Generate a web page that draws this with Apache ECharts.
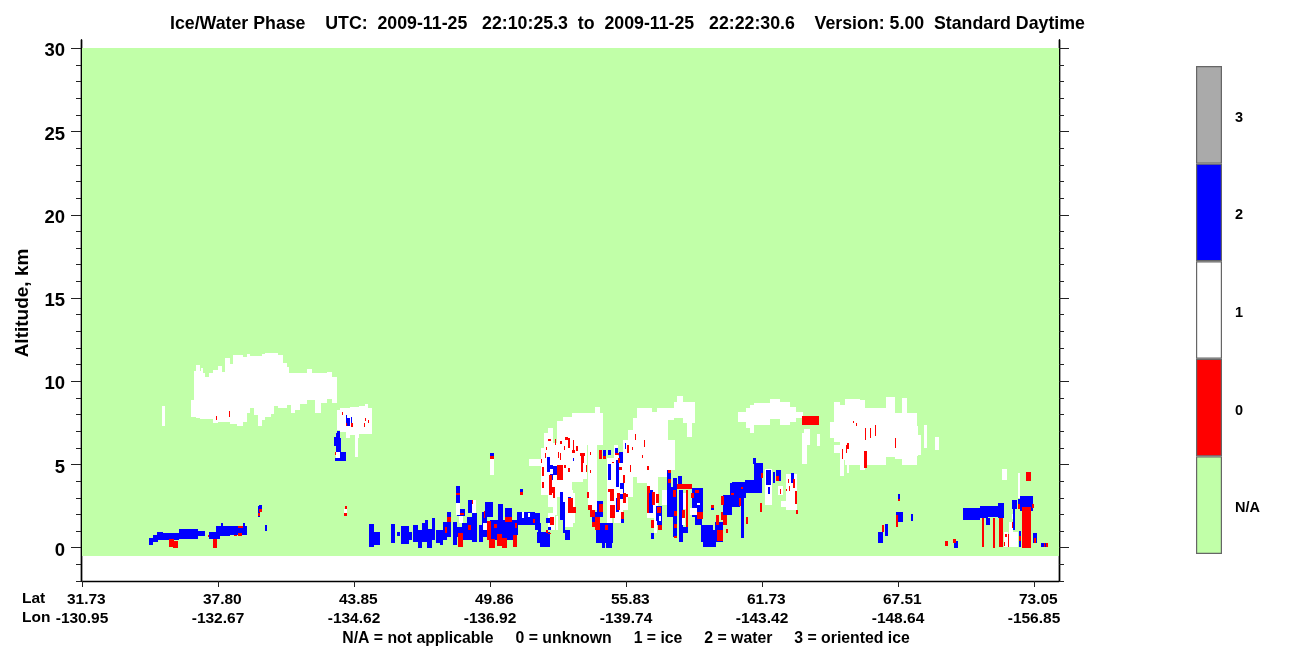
<!DOCTYPE html>
<html><head><meta charset="utf-8">
<style>html,body{margin:0;padding:0;background:#fff}#c{width:1300px;height:667px}</style>
<script src="https://cdn.jsdelivr.net/npm/echarts@6/dist/echarts.min.js"></script>
</head><body><div id="c"></div>
<script>
const titleText='Ice/Water Phase    UTC:  2009-11-25   22:10:25.3  to  2009-11-25   22:22:30.6    Version: 5.00  Standard Daytime';
const footText='N/A = not applicable     0 = unknown     1 = ice     2 = water     3 = oriented ice';
const latLabels=['31.73','37.80','43.85','49.86','55.83','61.73','67.51','73.05'];
const lonLabels=['-130.95','-132.67','-134.62','-136.92','-139.74','-143.42','-148.64','-156.85'];
const profileTicks=[0,136,272,408,544,680,816,952];
const majorAlt=[0,5,10,15,20,25,30];
const minorAlt=[-2,-1,1,2,3,4,6,7,8,9,11,12,13,14,16,17,18,19,21,22,23,24,26,27,28,29];
const phaseNames=['N/A','0','1','2','3'];
// every cell: [first profile, last profile, bottom km, top km]
const naCells=[[0,976.5,-0.5,30]];
const iceCells=[
[80,83,7.31,8.51],[109,112,7.85,8.9],[112,114,7.85,10.6],[114,118,7.8,10.97],[118,119,7.73,10.6],[119,121,7.73,10.8],[121,123,7.73,10.5],[123,127,7.73,10.25],[127,131,7.73,10.49],[131,136,7.49,10.67],[136,140,7.55,10.91],[140,143,7.55,10.55],[143,148,7.55,11.39],[148,151,7.43,11.03],[151,155,7.43,11.57],[155,161,7.31,11.57],[161,165,7.55,11.45],[165,168,8.09,11.63],[168,172,8.39,11.51],[172,176,7.97,11.51],[176,180,7.31,11.51],[180,183,7.67,11.63],[183,189,7.85,11.69],[189,192,8.03,11.69],[192,196,8.51,11.69],[196,201,8.39,11.57],[201,205,8.39,11.09],[205,207,8.57,10.85],[207,209,8.57,10.49],[209,213,8.09,10.49],[213,218,8.27,10.49],[218,225,8.63,10.49],[225,230,8.87,10.73],[230,233,8.87,10.49],[233,239,8.09,10.49],[239,245,8.69,10.49],[245,250,8.93,10.55],[250,255,8.69,10.25],
[255,258,7.07,8.3],[258,264,6.95,8.39],[264,268,6.58,8.39],[268,272,6.76,8.45],[272,273,6.76,8.45],[273,276,5.44,8.45],[276,277,6.6,8.45],[277,283,6.82,8.5],[283,286,6.82,8.63],[286,290,6.82,8.39],
[254,258,5.4,5.75],[262,265,2.1,2.3],[408,412,4.35,5.3],
[447,459,4.9,5.3],[459,462,3.15,6.0],[462,466,3.15,6.87],[466,471,2.43,7.17],[466,473,1.06,2.06],[471,475,1.95,6.27],[474,476,1.05,1.9],[475,481,3.03,7.59],[481,490,2.67,7.83],[481,491,1.26,3.46],[485,493,1.47,3.27],[490,501,3.93,8.07],[501,513,6.15,8.07],[513,518,6.15,8.43],[518,521,6.15,8.07],[506,515,2.26,6.15],[501,505,4.1,6.15],
[525,532,2.0,5.4],[525,530,1.26,2.1],[532,536,1.5,6.15],[536,541,1.5,5.5],[541,546,2.25,6.45],[546,551,3.06,7.06],
[551,555,4.24,7.77],[555,570,3.87,8.37],[570,586,4.24,8.13],[586,593,4.65,6.45],[575,592,7.65,8.37],[592,601,7.77,8.73],[595,601,8.67,9.09],[601,613,7.47,8.73],[605,610,6.63,7.47],[565,576,1.76,4.66],[572,575,0.86,2.06],[580,585,2.56,3.46],
[656,664,7.53,8.13],[664,668,7.17,8.37],[668,672,6.87,8.55],[672,688,7.35,8.67],[688,698,7.71,8.91],[698,708,7.35,8.73],[708,714,7.53,8.43],[714,721,7.77,8.13],
[720,725,5.01,6.87],[722,728,6.15,7.11],[735,738,6.09,6.81],
[748,752,6.57,7.53],[752,758,6.33,8.73],[752,761,5.67,6.15],[758,763,5.25,8.6],[758,762,4.29,5.25],[763,778,4.95,8.91],[765,767,4.5,4.95],[778,783,4.65,8.85],[783,804,4.95,8.4],[804,813,5.43,9.03],[813,820,5.35,8.07],[820,825,4.95,8.97],[825,835,4.95,8.07],[835,836,5.5,7.3],[836,839,5.55,6.75],[842,845,5.97,7.35],[853,857,5.85,6.63],
[683,690,2.55,4.71],[696,701,3.15,3.69],[704,715,2.25,4.41],[699,706,2.43,2.79],
[920,925,4.05,4.7],[936,938,3.0,4.5],[922,926,0.03,0.93],[927,931,0.03,1.53],[931,936,0.03,0.93]
];
const waterCells=[
[264,265,7.5,8.0],[265,268,7.3,7.77],[269,270,7.5,7.85],
[252,254,6.09,6.64],[254,255,5.73,6.9],[255,258,5.73,7.0],[258,259,5.73,6.6],[253,258,5.2,5.4],[258,264,5.2,5.75],
[67,71,0.15,0.57],[71,76,0.33,0.75],[75,81,0.45,0.93],[81,97,0.45,0.87],[97,116,0.5,1.1],[116,123,0.69,1.0],
[127,138,0.5,0.93],[134,148,0.69,1.29],[139,141,1.29,1.47],[146,165,0.75,1.29],[161,163,1.29,1.47],
[177,180,2.13,2.55],[176,178,1.85,2.5],[183,185,0.99,1.35],
[287,292,0.03,1.41],[292,298,0.15,0.93],[309,313,0.27,1.41],[315,318,0.69,0.93],[319,327,0.21,1.29],[327,330,0.45,0.93],[331,336,0.33,1.35],[336,340,0,1.05],[340,343,0.33,1.47],[343,346,0.33,1.65],[345,350,0,1.1],[350,353,0.45,1.77],[354,358,0.27,1.05],
[358,361,0.16,1.06],[361,365,0.46,1.56],[365,369,0.66,2.16],[371,375,0.16,1.56],[371,380,0.66,1.26],[374,378,2.7,3.7],[375,383,1.9,2.3],[380,393,0.46,1.46],[385,390,0.76,1.86],[386,390,2.06,2.84],[390,395,0.36,2.06],[397,401,0.36,1.36],[400,405,0.66,2.16],[403,411,1.86,2.76],[408,416,0.46,1.66],[416,421,1.46,2.62],[413,423,0.46,1.66],[423,430,0.56,2.36],[418,431,0.46,1.66],[430,436,0.76,1.66],[435,453,1.36,2.16],[453,458,1.06,2.06],[455,463,0.26,0.96],[456,459,0.96,1.5],[464,468,1.46,1.76],
[408,412,5.49,5.67],[438,441,3.33,3.51],
[458,468,0.06,0.96],[466,469,1.06,1.22],[465,468,4.56,5.46],[468,471,4.06,4.96],[471,475,4.36,4.9],[478,481,1.66,3.36],[481,483,0.86,2.76],[486,489,2.06,3.06],[483,488,0.46,1.06],[491,492,5.2,5.4],
[515,521,1.86,2.82],[510,518,1.46,2.16],[514,531,0.26,1.46],[520,523,0,0.5],[524,530,-0.02,0.6],[526,529,5.55,5.86],[521,524,5.5,5.86],[533,536,5.7,5.96],[526,529,4.06,5.02],[534,537,3.66,5.26],[537,541,5.06,5.76],[534,537,2.16,3.0],[538,542,2.9,3.86],[539,542,1.5,1.7],[543,544,5.9,6.3],
[569,572,0.52,0.86],[567,571,2.06,3.46],[574,580,1.36,2.5],[585,589,3.66,4.66],[585,591,1.86,3.66],[591,595,2.86,4.16],[591,595,0.66,2.86],[596,600,3.66,4.3],[597,601,0.36,3.46],[601,606,0.86,1.26],[610,621,1.86,3.56],[613,620,1.36,1.86],[619,631,0.36,1.36],[621,634,0.02,1.06],[629,632,2.26,2.4],[633,641,0.36,1.56],[641,650,1.96,3.16],[648,658,2.46,3.86],[650,664,3.0,3.96],[659,662,0.56,3.46],[663,668,3.26,4.06],[668,672,3.27,4.05],[672,681,4.17,5.07],[672,680,3.3,4.17],[671,674,5.01,5.37],
[684,689,3.75,4.65],[686,688,3.21,3.63],[691,693,3.9,4.55],[694,699,3.99,4.65],[709,712,3.9,4.5],
[796,801,0.27,0.93],[803,806,0.69,1.41],[816,818,2.95,3.2],[814,821,1.53,2.13],[829,831,1.6,2.0],
[872,876,0,0.39],[881,898,1.65,2.37],[898,906,1.77,2.49],[906,916,1.83,2.49],[916,922,1.77,2.67],[904,908,1.35,1.77],[931,933,1.05,2.55],[930,935,2.3,2.85],[936,938,2.6,2.9],[938,951,2.19,3.09],[937,939,0.03,0.99],[951,955,0.27,0.87],[959,966,0.03,0.27]
];
const iceOverCells=[
[374,378,1.96,2.7],[377,381,1.46,1.9],[390,394,2.06,2.86],[401,405,1.06,1.5],[440,442,1.8,2.12],[446,448,1.85,2.1],
[468,471,4.4,4.7],[572,575,1.2,1.6],[601,605,2.3,3.26],[600,603,1.36,1.76],[608,615,1.96,2.36],[577,579,1.6,1.9],[615,618,2.56,2.7],[483,486,2.5,2.8],[538,541,3.2,3.5],[930,931,1.7,2.0]
];
const unknownCells=[
[147,148,7.85,8.2],[134,135,7.7,7.9],[260,261,7.95,8.13],[264,265,7.3,7.5],[269,271,7.25,7.5],[283,284,7.6,7.77],[286,287,7.5,7.67],[282,283,7.25,7.5],[253,254,5.55,5.75],
[87,92,0.03,0.5],[91,96,0,0.39],[131,135,0,0.5],[126,127,0.66,0.78],[152,155,0.69,0.78],[156,160,0.69,0.9],[156,161,1.2,1.3],[177,180,2.13,2.3],[176,178,1.89,2.07],[263,265,2.3,2.5],[262,265,1.9,2.1],
[363,365,0.9,1.26],[365,369,1.56,1.82],[374,378,3.16,3.26],[378,382,1.95,2.1],[376,381,0.06,0.86],[386,389,1.06,1.36],[390,391,2.6,2.86],[405,409,0.46,1.62],[407,413,0,0.5],[415,420,0.1,0.82],[420,425,0,0.56],[423,430,1.56,1.82],[431,435,0.06,0.76],[412,415,1.2,1.4],[402,403,1.8,2.2],[433,435,1.2,1.5],[451,453,1.5,1.7],[464,466,0.9,1.05],
[408,412,5.3,5.49],[438,441,3.15,3.33],[460,462,3.56,3.96],
[460,462,4.3,4.86],[467,470,3.16,4.36],[470,473,3.26,3.66],[471,473,2.96,3.56],[475,481,4.06,4.96],
[466,469,6.42,6.52],[473,474,6.16,6.56],[478,480,6.22,6.4],[483,486,6.46,6.66],[482,483,5.86,6.1],[486,488,5.96,6.62],[490,493,5.66,5.86],[491,492,5.86,6.46],[494,496,5.82,6.1],[498,503,5.5,5.7],[499,501,4.56,5.66],[501,502,5.06,5.5],[508,509,5.56,5.76],[476,477,5.36,5.76],[478,479,5.26,5.66],[482,484,4.8,4.96],[486,488,4.56,4.76],[508,509,4.46,4.66],[504,505,4.56,4.96],[505,507,2.96,3.36],[464,465,5.86,6.06],[463,464,5.36,5.66],[459,460,5.06,5.3],
[486,491,2.06,2.96],[491,494,2.1,2.42],[468,472,1.36,1.82],[466,469,0.8,0.9],
[506,510,2.26,2.56],[508,513,1.82,2.26],[513,518,1.06,1.82],[510,515,1.26,1.56],[517,521,2.16,2.62],[523,526,1.06,1.36],[528,533,1.76,2.56],
[517,520,5.32,5.86],[521,524,5.32,5.5],[533,537,5.56,5.7],[536,538,5.06,5.36],[545,547,5.66,6.16],[528,532,2.82,3.5],[526,528,3.36,3.5],[535,538,2.26,3.3],[541,544,2.7,3.3],[543,546,3.06,3.22],[539,542,1.7,2.16],[541,543,3.86,4.36],[537,540,4.66,4.86],[530,532,5.06,5.16],
[553,554,6.5,6.86],[560,561,5.36,5.56],[562,563,6.06,6.46],[550,551,5.86,6.06],[548,549,4.56,4.96],[565,567,4.66,4.9],[565,568,3.26,3.7],
[565,567,2.06,3.7],[570,573,2.56,3.36],[574,577,2.66,3.22],[569,572,1.16,1.66],[575,579,2.06,2.46],[576,580,1.06,1.36],[586,589,3.86,4.1],[586,589,4.5,4.66],[591,594,3.06,3.46],[592,595,1.16,1.42],[592,595,0.6,0.72],[592,595,1.9,2.2],[595,610,3.5,3.82],[600,603,1.76,2.26],[604,606,1.26,3.46],[613,617,3.26,3.46],[609,612,2.96,3.26],[615,621,1.7,2.16],[649,652,3.14,3.26],[659,661,3.5,3.66],
[629,632,2.4,2.56],[634,637,1.36,1.96],[639,641,1.66,2.16],[635,641,0.4,1.06],[641,645,1.36,1.96],[644,646,0.86,1.1],[639,642,2.56,3.1],[657,659,2.52,2.96],[664,666,1.42,1.86],[678,680,2.13,2.67],[679,681,4.2,4.5],
[694,697,4.0,4.3],[698,699,3.2,3.5],[711,713,3.6,4.1],[713,715,2.6,3.4],[714,716,2.05,2.25],[706,707,3.9,4.1],[707,708,3.4,3.7],[704,705,3.4,3.55],
[720,737,7.35,7.89],
[771,772,7.5,7.6],[774,775,7.3,7.5],[783,784,6.5,7.2],[788,789,6.6,7.2],[793,794,6.7,7.4],[813,814,6.0,6.6],[765,767,5.9,6.3],[764,765,5.7,6.2],[760,761,5.3,5.9],[782,785,4.8,5.8],
[800,802,0.93,1.35],[814,816,1.23,1.95],[816,818,2.8,2.95],
[871,874,0.3,0.5],[863,866,0.1,0.4],[900,902,0.03,1.77],[911,913,0,1.77],[917,921,0.03,1.77],[923,925,0.65,0.85],[922,923,0.1,0.35],[926,927,0.03,0.8],[930,931,1.2,1.55],[936,938,2.31,2.6],[950,952,2.4,2.6],[940,949,0,2.43],[944,949,3.99,4.53],[937,939,0.4,0.7],[952,954,0.27,0.6],[962,963,0.03,0.27],[964,966,0.03,0.27]
];
const phaseColors={na:'#c1ffa8',ice:'#ffffff',water:'#0000ff',unknown:'#ff0000',oriented:'#aaaaaa'};
const barColors=[phaseColors.na,phaseColors.unknown,phaseColors.ice,phaseColors.water,phaseColors.oriented];
const fontFam='"Liberation Sans",Arial,sans-serif';

function cellSeries(name,cells,color,z){
  return {name,type:'custom',coordinateSystem:'cartesian2d',xAxisIndex:0,yAxisIndex:0,z,silent:true,animation:false,
    encode:{x:[0,1],y:[2,3]},data:cells,clip:true,
    renderItem(params,api){
      const a=api.coord([api.value(0),api.value(3)]),b=api.coord([api.value(1),api.value(2)]);
      const x=Math.round(a[0]),y=Math.round(a[1]);
      return {type:'rect',shape:{x,y,width:Math.round(b[0])-x,height:Math.max(1,Math.round(b[1])-y)},style:{fill:color},silent:true};
    }};
}
function altAxis(pos,vals,len,withLabel){
  return {type:'value',gridIndex:0,position:pos,min:-2,max:30.5,offset:pos==='left'?1:0,splitLine:{show:false},
    axisLine:{show:true,onZero:false,lineStyle:{color:'#000',width:1.4}},
    axisTick:{show:true,length:len,customValues:vals,lineStyle:{color:'#222',width:1}},
    axisLabel:withLabel?{show:true,customValues:vals,margin:16,color:'#000',fontFamily:fontFam,fontWeight:'bold',fontSize:18.5,verticalAlign:'top',lineHeight:6}:{show:false}};
}
const txt=(x,y,text,size,extra)=>Object.assign({type:'text',x,y,silent:true,style:Object.assign({text,fill:'#000',fontFamily:fontFam,fontWeight:'bold',fontSize:size,verticalAlign:'middle'},extra||{})});
const chart=echarts.init(document.getElementById('c'),null,{renderer:'canvas'});
chart.setOption({
  animation:false,backgroundColor:'#fff',
  grid:[{left:82,top:40,width:977,height:541,containLabel:false},{left:1196,top:66,width:26,height:488}],
  xAxis:[
    {type:'value',gridIndex:0,min:0,max:977,splitLine:{show:false},
     axisLine:{show:true,onZero:false,lineStyle:{color:'#000',width:1.4}},
     axisTick:{show:true,length:6,customValues:profileTicks,lineStyle:{color:'#222',width:1}},
     axisLabel:{show:true,customValues:profileTicks,margin:9,color:'#000',fontFamily:fontFam,fontWeight:'bold',fontSize:15.5,lineHeight:19,hideOverlap:false,showMinLabel:true,
       formatter:v=>{const i=profileTicks.indexOf(v);return '  '+latLabels[i]+'\n'+lonLabels[i];}}},
    {type:'value',gridIndex:1,min:0,max:1,show:false}
  ],
  yAxis:[
    altAxis('left',majorAlt,10,true),altAxis('left',minorAlt,5,false),
    altAxis('right',majorAlt,10,false),altAxis('right',minorAlt,5,false),
    {type:'category',gridIndex:1,position:'right',data:phaseNames,axisLine:{show:false},axisTick:{show:false},
     axisLabel:{margin:13,color:'#000',fontFamily:fontFam,fontWeight:'bold',fontSize:14.5,verticalAlign:'top',lineHeight:6}}
  ],
  series:[
    cellSeries('N/A',naCells,phaseColors.na,1),
    cellSeries('ice',iceCells,phaseColors.ice,2),
    cellSeries('water',waterCells,phaseColors.water,3),
    cellSeries('ice over',iceOverCells,phaseColors.ice,4),
    cellSeries('unknown',unknownCells,phaseColors.unknown,5),
    {type:'bar',xAxisIndex:1,yAxisIndex:4,barWidth:'100%',silent:true,animation:false,
     data:barColors.map(c=>({value:1,itemStyle:{color:c,borderColor:'#666',borderWidth:1.2}}))}
  ],
  graphic:[
    txt(170,24,titleText,17.75),
    txt(626,639,footText,15.8,{align:'center'}),
    txt(22,599,'Lat',15.5),txt(22,618,'Lon',15.5),
    {type:'text',x:23,y:303,rotation:Math.PI/2,silent:true,style:{text:'Altitude, km',fill:'#000',fontFamily:fontFam,fontWeight:'bold',fontSize:19,align:'center',verticalAlign:'middle'}}
  ]
});
</script></body></html>
